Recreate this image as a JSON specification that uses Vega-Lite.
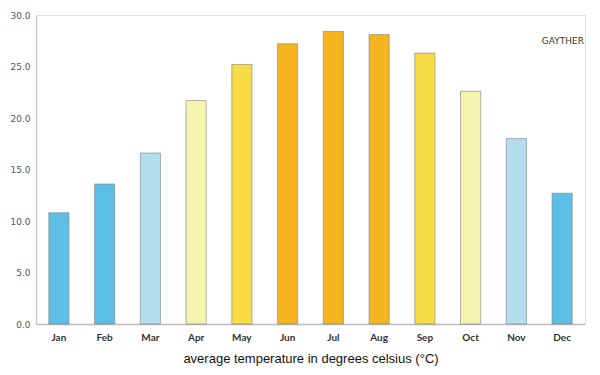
{
  "$schema": "https://vega.github.io/schema/vega-lite/v6.json",
  "width": 549,
  "height": 309,
  "autosize": {"type": "none"},
  "padding": {"left": 36, "top": 15, "right": 15, "bottom": 51},
  "background": "white",
  "title": {
    "text": "GAYTHER",
    "anchor": "end",
    "orient": "top",
    "frame": "group",
    "offset": -35,
    "fontSize": 9,
    "font": "DejaVu Sans",
    "fontWeight": "normal",
    "color": "#333333",
    "dx": -1
  },
  "data": {
    "values": [
      {"month": "Jan", "temp": 10.8, "band": "cold"},
      {"month": "Feb", "temp": 13.6, "band": "cold"},
      {"month": "Mar", "temp": 16.6, "band": "cool"},
      {"month": "Apr", "temp": 21.7, "band": "mild"},
      {"month": "May", "temp": 25.2, "band": "warm"},
      {"month": "Jun", "temp": 27.2, "band": "hot"},
      {"month": "Jul", "temp": 28.4, "band": "hot"},
      {"month": "Aug", "temp": 28.1, "band": "hot"},
      {"month": "Sep", "temp": 26.3, "band": "warm"},
      {"month": "Oct", "temp": 22.6, "band": "mild"},
      {"month": "Nov", "temp": 18.0, "band": "cool"},
      {"month": "Dec", "temp": 12.7, "band": "cold"}
    ]
  },
  "mark": {"type": "bar", "stroke": "#777777", "strokeOpacity": 0.55, "strokeWidth": 1},
  "encoding": {
    "x": {
      "field": "month",
      "type": "nominal",
      "sort": null,
      "scale": {"paddingInner": 0.56, "paddingOuter": 0.28},
      "axis": {
        "title": "average temperature in degrees celsius (°C)",
        "titleFont": "Liberation Sans",
        "titleFontSize": 13,
        "titleFontWeight": "normal",
        "titleColor": "#111111",
        "titlePadding": 10,
        "labelAngle": 0,
        "labelFont": "Lato",
        "labelFontSize": 10,
        "labelFontWeight": "bold",
        "labelColor": "#333333",
        "labelPadding": 8,
        "ticks": false,
        "domainColor": "#bbbbbb",
        "domainWidth": 1.5
      }
    },
    "y": {
      "field": "temp",
      "type": "quantitative",
      "scale": {"domain": [0, 30], "nice": false},
      "axis": {
        "title": null,
        "values": [0, 5, 10, 15, 20, 25, 30],
        "format": ".1f",
        "grid": false,
        "ticks": false,
        "labelFont": "DejaVu Sans",
        "labelFontSize": 9,
        "labelColor": "#555555",
        "labelPadding": 6,
        "domainColor": "#cccccc",
        "domainWidth": 1.5
      }
    },
    "color": {
      "field": "band",
      "type": "nominal",
      "scale": {
        "domain": ["cold", "cool", "mild", "warm", "hot"],
        "range": ["#5bbfe6", "#b3def0", "#f4f4b0", "#f8dc45", "#f5b520"]
      },
      "legend": null
    }
  }
}
